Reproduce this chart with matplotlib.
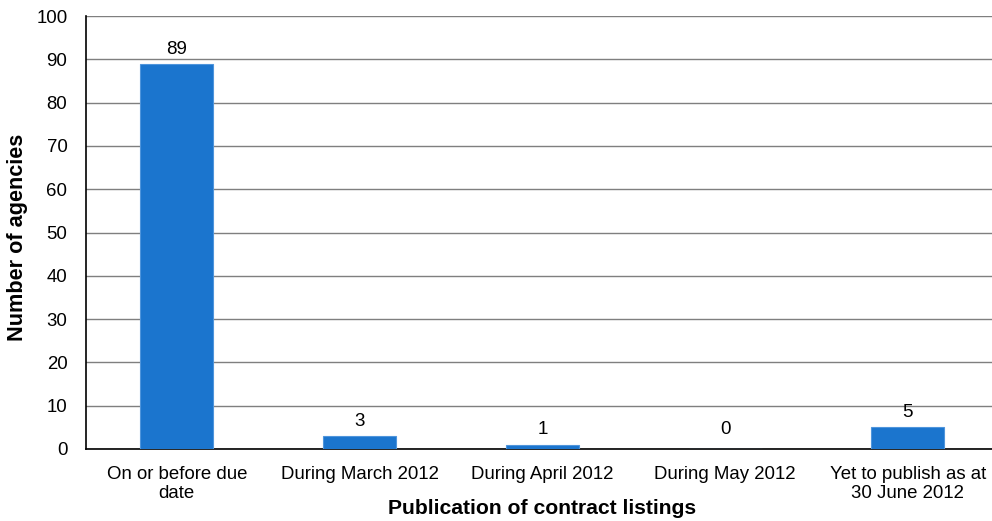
import matplotlib.pyplot as plt
import numpy as np

plt.rcParams['font.family'] = ['Liberation Sans', 'DejaVu Sans']

categories = ['On or before due\ndate', 'During March 2012', 'During April 2012',
              'During May 2012', 'Yet to publish as at\n30 June 2012']
agencies = [89, 3, 1, 0, 5]

fig = plt.figure(figsize=(9.92, 5.21), dpi=100)
ax = fig.add_axes([0.0862, 0.1382, 0.921, 0.831])

x = np.arange(len(categories))
bars = ax.bar(x, agencies, width=0.4, color='#1b75ce', edgecolor='#4f95dc',
              linewidth=0.8, zorder=3)
# value labels sit above each bar, never lower than a small floor
for xi, v in zip(x, agencies):
    ypos = max(v + 2.3, 3.45)
    ax.text(xi, ypos, str(v), ha='center', va='baseline', fontsize=13.5)

ax.set_xlim(-0.5, len(categories) - 0.5)
ax.set_ylim(0, 100)
ax.set_yticks(range(0, 101, 10))
ax.yaxis.grid(True, color='#7f7f7f', linewidth=1, zorder=0)
ax.set_xticks(x)
ax.set_xticklabels(categories, fontsize=13.4, linespacing=1.2)
ax.tick_params(axis='y', labelsize=13.4, length=0, pad=13)
ax.tick_params(axis='x', length=0, pad=12)

for side in ['top', 'right']:
    ax.spines[side].set_visible(False)
for side in ['left', 'bottom']:
    ax.spines[side].set_color('black')
    ax.spines[side].set_linewidth(1.2)

# axis titles placed in figure coordinates
fig.text(18 / 992, 1 - 237.5 / 521, 'Number of agencies', rotation=90,
         ha='center', va='center', fontsize=15.6, fontweight='bold')
fig.text(542 / 992, 1 - 508 / 521, 'Publication of contract listings',
         ha='center', va='center', fontsize=15.2, fontweight='bold')

fig.savefig('out.png', dpi=100)
